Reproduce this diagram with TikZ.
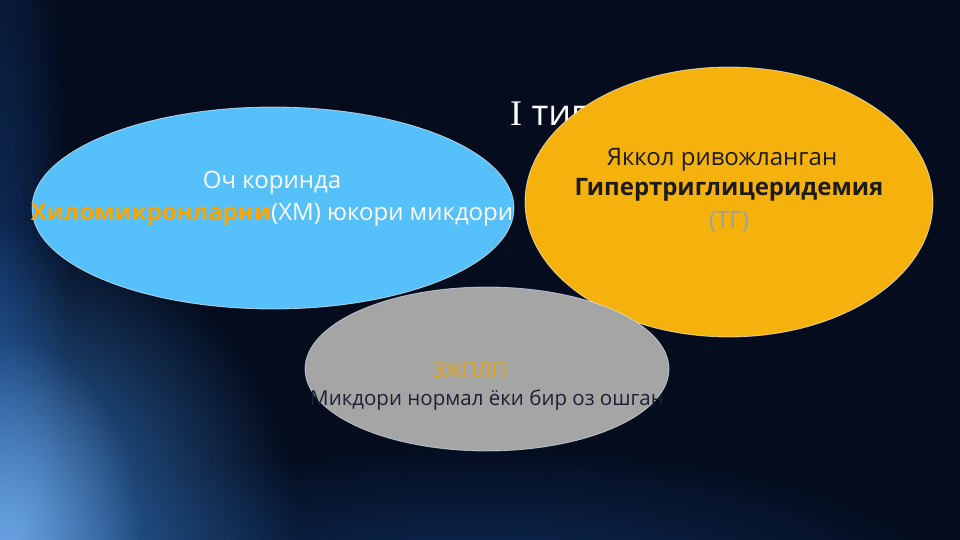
\documentclass[tikz,border=0pt]{standalone}
\usepackage{fontspec}
\setmainfont{Open Sans}
\newfontfamily\serifI{Liberation Serif}
\usetikzlibrary{shapes.geometric,fadings}
\definecolor{bgnavy}{HTML}{040C1D}
\definecolor{glowblue}{HTML}{3F8FE6}
\definecolor{glowdeep}{HTML}{1A4C95}
\definecolor{skyfill}{HTML}{56C0FA}
\definecolor{ambfill}{HTML}{F6B20C}
\definecolor{greyfill}{HTML}{A5A5A5}
\definecolor{hmorange}{HTML}{F9A602}
\definecolor{zjorange}{HTML}{E3A50F}
\definecolor{tgtext}{HTML}{9A9FA6}
\definecolor{darktext}{HTML}{1E1A16}
\definecolor{navytext}{HTML}{1C2233}
\tikzfading[name=softglow, inner color=transparent!0, outer color=transparent!100]
\begin{document}
\begin{tikzpicture}[x=1pt,y=-1pt,
  blob/.style={ellipse, inner sep=0pt, draw=white, draw opacity=0.6, line width=0.8pt},
  lbl/.style={anchor=base, inner sep=0pt, font=\fontsize{24}{28}\selectfont},
  smalllbl/.style={anchor=base, inner sep=0pt, font=\fontsize{20.5}{24}\selectfont}]
\useasboundingbox (0,0) rectangle (960,540);
\fill[bgnavy] (0,0) rectangle (960,540);
\begin{scope}
  \clip (0,0) rectangle (960,540);
  \fill[glowdeep, path fading=softglow, opacity=0.55] (480,600) ellipse (500 and 160);
  \fill[glowdeep, path fading=softglow, opacity=0.5] (0,280) ellipse (70 and 480);
  \fill[glowblue, path fading=softglow, opacity=0.85] (0,540) ellipse (300 and 320);
  \fill[glowblue!60!white, path fading=softglow, opacity=0.6] (10,540) ellipse (130 and 200);
\end{scope}
% title (partly hidden)
\node[anchor=base west, inner sep=0pt, text=white, font=\fontsize{36}{40}\selectfont] (title) at (510,126) {{\serifI I} тип};
% blue ellipse
\node[blob, fill=skyfill, minimum width=482pt, minimum height=202pt] (sky) at (273,208) {};
\node[lbl, text=white] (sky1) at (272,189) {Оч коринда};
\node[lbl, text=white] (sky2) at (272,220) {\textbf{\color{hmorange}Хиломикронларни}(ХМ) юкори микдори};
% orange ellipse
\node[blob, fill=ambfill, minimum width=408pt, minimum height=270pt] (amb) at (729,202) {};
\node[lbl, text=darktext] (amb1) at (722,165) {Яккол ривожланган};
\node[lbl, text=darktext] (amb2) at (729,195) {\textbf{Гипертриглицеридемия}};
\node[lbl, text=tgtext] (amb3) at (729,228) {(ТГ)};
% grey ellipse
\node[blob, fill=greyfill, draw=white!80!skyfill, minimum width=364pt, minimum height=164pt] (grey) at (487,369) {};
\node[smalllbl, text=zjorange] (grey1) at (470,377) {ЗЖПЛП};
\node[smalllbl, text=navytext] (grey2) at (487,405) {Микдори нормал ёки бир оз ошган};
\end{tikzpicture}
\end{document}
